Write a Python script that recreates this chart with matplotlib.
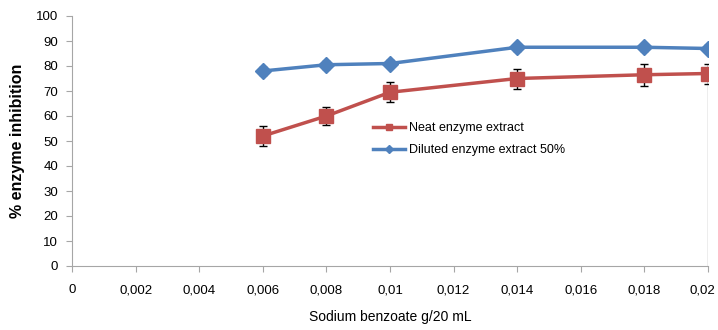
import matplotlib.pyplot as plt
import matplotlib.transforms as mtransforms
from matplotlib.lines import Line2D

# concentration of sodium benzoate (g/20 mL)
conc = [0.006, 0.008, 0.01, 0.014, 0.018, 0.02]
neat = [52, 60, 69.5, 75, 76.5, 77]
neat_err = [4, 3.5, 4, 4, 4.5, 4]
diluted = [78, 80.5, 81, 87.5, 87.5, 87]
diluted_err = [1.5, 1.5, 1.5, 1.5, 1.5, 1.5]

x_ticks = [0, 0.002, 0.004, 0.006, 0.008, 0.01, 0.012, 0.014, 0.016, 0.018, 0.02]
x_labels = ["0", "0,002", "0,004", "0,006", "0,008", "0,01", "0,012",
            "0,014", "0,016", "0,018", "0,02"]
y_ticks = list(range(0, 101, 10))

plt.rcParams['font.family'] = ['Liberation Sans', 'DejaVu Sans']

red = "#c0504d"
blue = "#4f81bd"
gray = "#a6a6a6"

fig = plt.figure(figsize=(7.18, 3.3), dpi=100)
ax = fig.add_axes([72 / 718, 1 - 266 / 330, 636 / 718, 250 / 330])

# gray drop line at the last x value
ax.vlines(conc[-1], 0, neat[-1] - neat_err[-1], color=gray, lw=1, zorder=1)

ax.errorbar(conc, neat, yerr=neat_err, color=red, lw=2.5, marker="s", ms=10,
            ecolor="black", elinewidth=1, capsize=3, zorder=3)
ax.errorbar(conc, diluted, yerr=diluted_err, color=blue, lw=2.5, marker="D", ms=8,
            ecolor="black", elinewidth=1, capsize=3, zorder=4)

ax.set_xlim(0, 0.02)
ax.set_ylim(0, 100)
ax.set_xticks(x_ticks)
ax.set_xticklabels(x_labels)
ax.set_yticks(y_ticks)
ax.tick_params(axis="both", labelsize=9.5, color=gray, length=4, pad=6)
ax.tick_params(axis="x", pad=9)
for s in ["top", "right"]:
    ax.spines[s].set_visible(False)
for s in ["left", "bottom"]:
    ax.spines[s].set_color(gray)

# nudge the last x label so it stays inside the figure
last = ax.get_xticklabels()[-1]
last.set_transform(last.get_transform() + mtransforms.ScaledTranslation(-4 / 72, 0, fig.dpi_scale_trans))

ax.set_xlabel("Sodium benzoate g/20 mL", fontsize=10, labelpad=10)
ax.set_ylabel("% enzyme inhibition", fontsize=11.5, fontweight="bold", labelpad=8)

handles = [
    Line2D([], [], color=red, lw=2.5, marker="s", ms=5),
    Line2D([], [], color=blue, lw=2.5, marker="D", ms=4),
]
labels = ["Neat enzyme extract", "Diluted enzyme extract 50%"]
ax.legend(handles, labels, loc="upper left", bbox_to_anchor=(0.455, 0.62), frameon=False,
          fontsize=9, handlelength=2.6, handletextpad=0.3, labelspacing=0.8)

fig.savefig("out.png", dpi=100)
